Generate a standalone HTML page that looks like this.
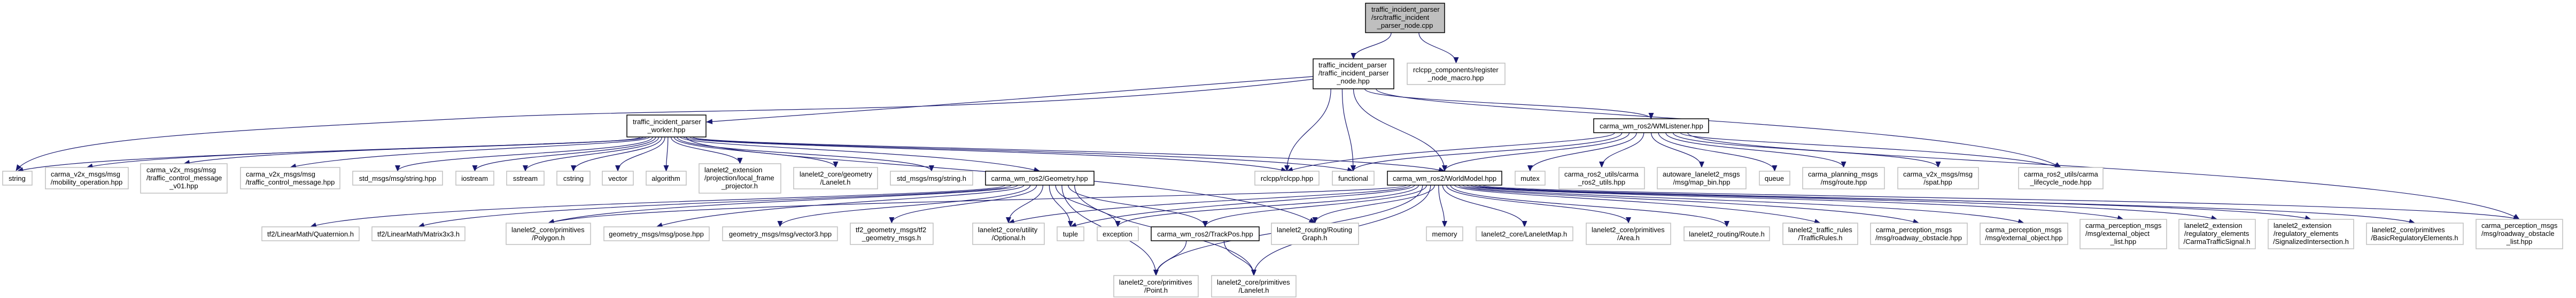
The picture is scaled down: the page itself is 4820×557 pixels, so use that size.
<!DOCTYPE html>
<html><head><meta charset="utf-8"><style>
html,body{margin:0;padding:0;background:#fff;}
svg{display:block}
text{font-family:"Liberation Sans",Arial,sans-serif;font-size:13px;fill:#000}
.g rect{fill:#fff;stroke:#bfbfbf;stroke-width:1.5}
.b rect{fill:#fff;stroke:#000;stroke-width:1.5}
.r rect{fill:#bfbfbf;stroke:#000;stroke-width:1.5}
</style></head><body>
<svg id="s" width="4820" height="557" viewBox="0 0 4820 557" xmlns="http://www.w3.org/2000/svg">
<defs><marker id="a" markerUnits="userSpaceOnUse" markerWidth="12" markerHeight="10" refX="11" refY="5" orient="auto"><path d="M0,0 L12,5 L0,10 z" fill="#191970"/></marker></defs>
<g id="edges" fill="none" stroke="#191970" stroke-width="1.2"></g>

<g class="r"><rect x="2555" y="6" width="148" height="55"/><text x="2566" y="22">traffic_incident_parser</text><text x="2566" y="37">/src/traffic_incident</text><text x="2629" y="52" text-anchor="middle">_parser_node.cpp</text></g>
<g class="b"><rect x="2457" y="110" width="151" height="56"/><text x="2467" y="126">traffic_incident_parser</text><text x="2467" y="141">/traffic_incident_parser</text><text x="2532" y="156" text-anchor="middle">_node.hpp</text></g>
<g class="g"><rect x="2633" y="118" width="183" height="40"/><text x="2644" y="135">rclcpp_components/register</text><text x="2724" y="150" text-anchor="middle">_node_macro.hpp</text></g>
<g class="b"><rect x="1173" y="215" width="148" height="41"/><text x="1184" y="232">traffic_incident_parser</text><text x="1247" y="247" text-anchor="middle">_worker.hpp</text></g>
<g class="b"><rect x="2982" y="222" width="215" height="26"/><text x="3090" y="240" text-anchor="middle">carma_wm_ros2/WMListener.hpp</text></g>

<g class="g"><rect x="5" y="320" width="55" height="26"/><text x="32" y="338" text-anchor="middle">string</text></g>
<g class="g"><rect x="85" y="313" width="155" height="40"/><text x="95" y="330">carma_v2x_msgs/msg</text><text x="162" y="345" text-anchor="middle">/mobility_operation.hpp</text></g>
<g class="g"><rect x="263" y="306" width="162" height="55"/><text x="274" y="322">carma_v2x_msgs/msg</text><text x="274" y="337">/traffic_control_message</text><text x="344" y="352" text-anchor="middle">_v01.hpp</text></g>
<g class="g"><rect x="450" y="313" width="186" height="40"/><text x="460" y="330">carma_v2x_msgs/msg</text><text x="543" y="345" text-anchor="middle">/traffic_control_message.hpp</text></g>
<g class="g"><rect x="660" y="320" width="168" height="26"/><text x="744" y="338" text-anchor="middle">std_msgs/msg/string.hpp</text></g>
<g class="g"><rect x="853" y="320" width="71" height="26"/><text x="888" y="338" text-anchor="middle">iostream</text></g>
<g class="g"><rect x="948" y="320" width="70" height="26"/><text x="983" y="338" text-anchor="middle">sstream</text></g>
<g class="g"><rect x="1042" y="320" width="62" height="26"/><text x="1073" y="338" text-anchor="middle">cstring</text></g>
<g class="g"><rect x="1127" y="320" width="58" height="26"/><text x="1156" y="338" text-anchor="middle">vector</text></g>
<g class="g"><rect x="1209" y="320" width="75" height="26"/><text x="1246" y="338" text-anchor="middle">algorithm</text></g>
<g class="g"><rect x="1308" y="306" width="153" height="55"/><text x="1318" y="322">lanelet2_extension</text><text x="1318" y="337">/projection/local_frame</text><text x="1384" y="352" text-anchor="middle">_projector.h</text></g>
<g class="g"><rect x="1485" y="313" width="157" height="40"/><text x="1496" y="330">lanelet2_core/geometry</text><text x="1563" y="345" text-anchor="middle">/Lanelet.h</text></g>
<g class="g"><rect x="1666" y="320" width="154" height="26"/><text x="1743" y="338" text-anchor="middle">std_msgs/msg/string.h</text></g>
<g class="b"><rect x="1844" y="320" width="203" height="26"/><text x="1945" y="338" text-anchor="middle">carma_wm_ros2/Geometry.hpp</text></g>
<g class="g"><rect x="2348" y="320" width="120" height="26"/><text x="2408" y="338" text-anchor="middle">rclcpp/rclcpp.hpp</text></g>
<g class="g"><rect x="2493" y="320" width="78" height="26"/><text x="2532" y="338" text-anchor="middle">functional</text></g>
<g class="b"><rect x="2596" y="320" width="214" height="26"/><text x="2703" y="338" text-anchor="middle">carma_wm_ros2/WorldModel.hpp</text></g>
<g class="g"><rect x="2835" y="320" width="56" height="26"/><text x="2863" y="338" text-anchor="middle">mutex</text></g>
<g class="g"><rect x="2917" y="313" width="160" height="40"/><text x="2927" y="330">carma_ros2_utils/carma</text><text x="2997" y="345" text-anchor="middle">_ros2_utils.hpp</text></g>
<g class="g"><rect x="3101" y="313" width="166" height="40"/><text x="3111" y="330">autoware_lanelet2_msgs</text><text x="3184" y="345" text-anchor="middle">/msg/map_bin.hpp</text></g>
<g class="g"><rect x="3292" y="320" width="57" height="26"/><text x="3320" y="338" text-anchor="middle">queue</text></g>
<g class="g"><rect x="3373" y="313" width="153" height="40"/><text x="3383" y="330">carma_planning_msgs</text><text x="3450" y="345" text-anchor="middle">/msg/route.hpp</text></g>
<g class="g"><rect x="3551" y="313" width="151" height="40"/><text x="3561" y="330">carma_v2x_msgs/msg</text><text x="3626" y="345" text-anchor="middle">/spat.hpp</text></g>
<g class="g"><rect x="3777" y="313" width="158" height="40"/><text x="3787" y="330">carma_ros2_utils/carma</text><text x="3856" y="345" text-anchor="middle">_lifecycle_node.hpp</text></g>

<g class="g"><rect x="490" y="424" width="182" height="26"/><text x="581" y="442" text-anchor="middle">tf2/LinearMath/Quaternion.h</text></g>
<g class="g"><rect x="696" y="424" width="174" height="26"/><text x="783" y="442" text-anchor="middle">tf2/LinearMath/Matrix3x3.h</text></g>
<g class="g"><rect x="947" y="417" width="158" height="40"/><text x="957" y="434">lanelet2_core/primitives</text><text x="1026" y="449" text-anchor="middle">/Polygon.h</text></g>
<g class="g"><rect x="1130" y="424" width="197" height="26"/><text x="1228" y="442" text-anchor="middle">geometry_msgs/msg/pose.hpp</text></g>
<g class="g"><rect x="1352" y="424" width="215" height="26"/><text x="1460" y="442" text-anchor="middle">geometry_msgs/msg/vector3.hpp</text></g>
<g class="g"><rect x="1591" y="417" width="155" height="40"/><text x="1601" y="434">tf2_geometry_msgs/tf2</text><text x="1668" y="449" text-anchor="middle">_geometry_msgs.h</text></g>
<g class="g"><rect x="1820" y="417" width="134" height="40"/><text x="1830" y="434">lanelet2_core/utility</text><text x="1887" y="449" text-anchor="middle">/Optional.h</text></g>
<g class="g"><rect x="1978" y="424" width="50" height="26"/><text x="2003" y="442" text-anchor="middle">tuple</text></g>
<g class="g"><rect x="2053" y="424" width="77" height="26"/><text x="2091" y="442" text-anchor="middle">exception</text></g>
<g class="b"><rect x="2154" y="424" width="202" height="26"/><text x="2255" y="442" text-anchor="middle">carma_wm_ros2/TrackPos.hpp</text></g>
<g class="g"><rect x="2379" y="417" width="163" height="40"/><text x="2389" y="434">lanelet2_routing/Routing</text><text x="2460" y="449" text-anchor="middle">Graph.h</text></g>
<g class="g"><rect x="2669" y="424" width="68" height="26"/><text x="2703" y="442" text-anchor="middle">memory</text></g>
<g class="g"><rect x="2762" y="424" width="181" height="26"/><text x="2852" y="442" text-anchor="middle">lanelet2_core/LaneletMap.h</text></g>
<g class="g"><rect x="2968" y="417" width="158" height="40"/><text x="2978" y="434">lanelet2_core/primitives</text><text x="3047" y="449" text-anchor="middle">/Area.h</text></g>
<g class="g"><rect x="3151" y="424" width="160" height="26"/><text x="3231" y="442" text-anchor="middle">lanelet2_routing/Route.h</text></g>
<g class="g"><rect x="3336" y="417" width="140" height="40"/><text x="3346" y="434">lanelet2_traffic_rules</text><text x="3406" y="449" text-anchor="middle">/TrafficRules.h</text></g>
<g class="g"><rect x="3500" y="417" width="181" height="40"/><text x="3510" y="434">carma_perception_msgs</text><text x="3590" y="449" text-anchor="middle">/msg/roadway_obstacle.hpp</text></g>
<g class="g"><rect x="3705" y="417" width="164" height="40"/><text x="3715" y="434">carma_perception_msgs</text><text x="3787" y="449" text-anchor="middle">/msg/external_object.hpp</text></g>
<g class="g"><rect x="3892" y="410" width="162" height="55"/><text x="3902" y="426">carma_perception_msgs</text><text x="3902" y="441">/msg/external_object</text><text x="3973" y="456" text-anchor="middle">_list.hpp</text></g>
<g class="g"><rect x="4077" y="410" width="143" height="55"/><text x="4087" y="426">lanelet2_extension</text><text x="4087" y="441">/regulatory_elements</text><text x="4148" y="456" text-anchor="middle">/CarmaTrafficSignal.h</text></g>
<g class="g"><rect x="4244" y="410" width="160" height="55"/><text x="4254" y="426">lanelet2_extension</text><text x="4254" y="441">/regulatory_elements</text><text x="4324" y="456" text-anchor="middle">/SignalizedIntersection.h</text></g>
<g class="g"><rect x="4428" y="417" width="181" height="40"/><text x="4438" y="434">lanelet2_core/primitives</text><text x="4518" y="449" text-anchor="middle">/BasicRegulatoryElements.h</text></g>
<g class="g"><rect x="4633" y="410" width="162" height="55"/><text x="4643" y="426">carma_perception_msgs</text><text x="4643" y="441">/msg/roadway_obstacle</text><text x="4714" y="456" text-anchor="middle">_list.hpp</text></g>

<g class="g"><rect x="2084" y="515" width="158" height="40"/><text x="2094" y="532">lanelet2_core/primitives</text><text x="2163" y="547" text-anchor="middle">/Point.h</text></g>
<g class="g"><rect x="2267" y="515" width="158" height="40"/><text x="2277" y="532">lanelet2_core/primitives</text><text x="2346" y="547" text-anchor="middle">/Lanelet.h</text></g>
</svg>
<script>
var N={root:[2555,6,2703,61],nh:[2457,110,2608,166],reg:[2633,118,2816,158],wk:[1173,215,1321,256],wml:[2982,222,3197,248],
string:[5,320,60,346],mob:[85,313,240,353],v01:[263,306,425,361],tcm:[450,313,636,353],sstr:[660,320,828,346],ios:[853,320,924,346],ss:[948,320,1018,346],cs:[1042,320,1104,346],vec:[1127,320,1185,346],alg:[1209,320,1284,346],proj:[1308,306,1461,361],gl:[1485,313,1642,353],ssh:[1666,320,1820,346],geo:[1844,320,2047,346],rcl:[2348,320,2468,346],fn:[2493,320,2571,346],wm:[2596,320,2810,346],mtx:[2835,320,2891,346],cru:[2917,313,3077,353],mb:[3101,313,3267,353],q:[3292,320,3349,346],rt:[3373,313,3526,353],spat:[3551,313,3702,353],lc:[3777,313,3935,353],
quat:[490,424,672,450],mat:[696,424,870,450],poly:[947,417,1105,457],pose:[1130,424,1327,450],v3:[1352,424,1567,450],tf2:[1591,417,1746,457],opt:[1820,417,1954,457],tup:[1978,424,2028,450],exc:[2053,424,2130,450],tp:[2154,424,2356,450],rg:[2379,417,2542,457],mem:[2669,424,2737,450],lm:[2762,424,2943,450],area:[2968,417,3126,457],route:[3151,424,3311,450],tr:[3336,417,3476,457],ro:[3500,417,3681,457],eo:[3705,417,3869,457],eol:[3892,410,4054,465],cts:[4077,410,4220,465],si:[4244,410,4404,465],bre:[4428,417,4609,457],rol:[4633,410,4795,465],
pt:[2084,515,2242,555],ll:[2267,515,2425,555]};
var E={root:['nh','reg'],nh:['rcl','fn','wm','wml','lc'],
wk:['string','mob','v01','tcm','sstr','ios','ss','cs','vec','alg','proj','gl','ssh','geo','rcl','fn','wm','rg'],
geo:['quat','mat','poly','pose','v3','tf2','opt','tup','exc','tp','pt','ll'],
tp:['pt','ll'],
wml:['rcl','fn','wm','mtx','cru','mb','q','rt','spat','lc','rol'],
wm:['poly','opt','tup','exc','tp','pt','ll','rg','mem','lm','area','route','tr','ro','eo','eol','cts','si','bre','rol']};
var g=document.getElementById('edges'),h='';
function P(d){h+='<path d="'+d+'" marker-end="url(#a)"/>';}
for(var s in E){var S=N[s],L=E[s].slice().sort(function(a,b){return (N[a][0]+N[a][2])-(N[b][0]+N[b][2]);}),n=L.length,w=S[2]-S[0];
L.forEach(function(t,i){var T=N[t],sx=S[0]+w*(0.15+0.7*(i+0.5)/n),sy=S[3],tx=(T[0]+T[2])/2,ty=T[1];
if(Math.abs(tx-sx)>600){var dy=ty-sy;P('M'+sx.toFixed(1)+','+sy+' C'+sx.toFixed(1)+','+(sy+dy*0.3)+' '+(tx+(sx>tx?150:-150))+','+(ty-dy*0.6)+' '+tx+','+ty);}
else{var dy=ty-sy;P('M'+sx.toFixed(1)+','+sy+' C'+sx.toFixed(1)+','+(sy+dy*0.5)+' '+tx+','+(ty-dy*0.5)+' '+tx+','+ty);}});}
P('M2457,143 C2000,180 1700,200 1322,228');
P('M2457,148 C1900,215 1300,200 900,220 C400,245 70,260 30,319');
g.innerHTML=h;
</script>
</body></html>
